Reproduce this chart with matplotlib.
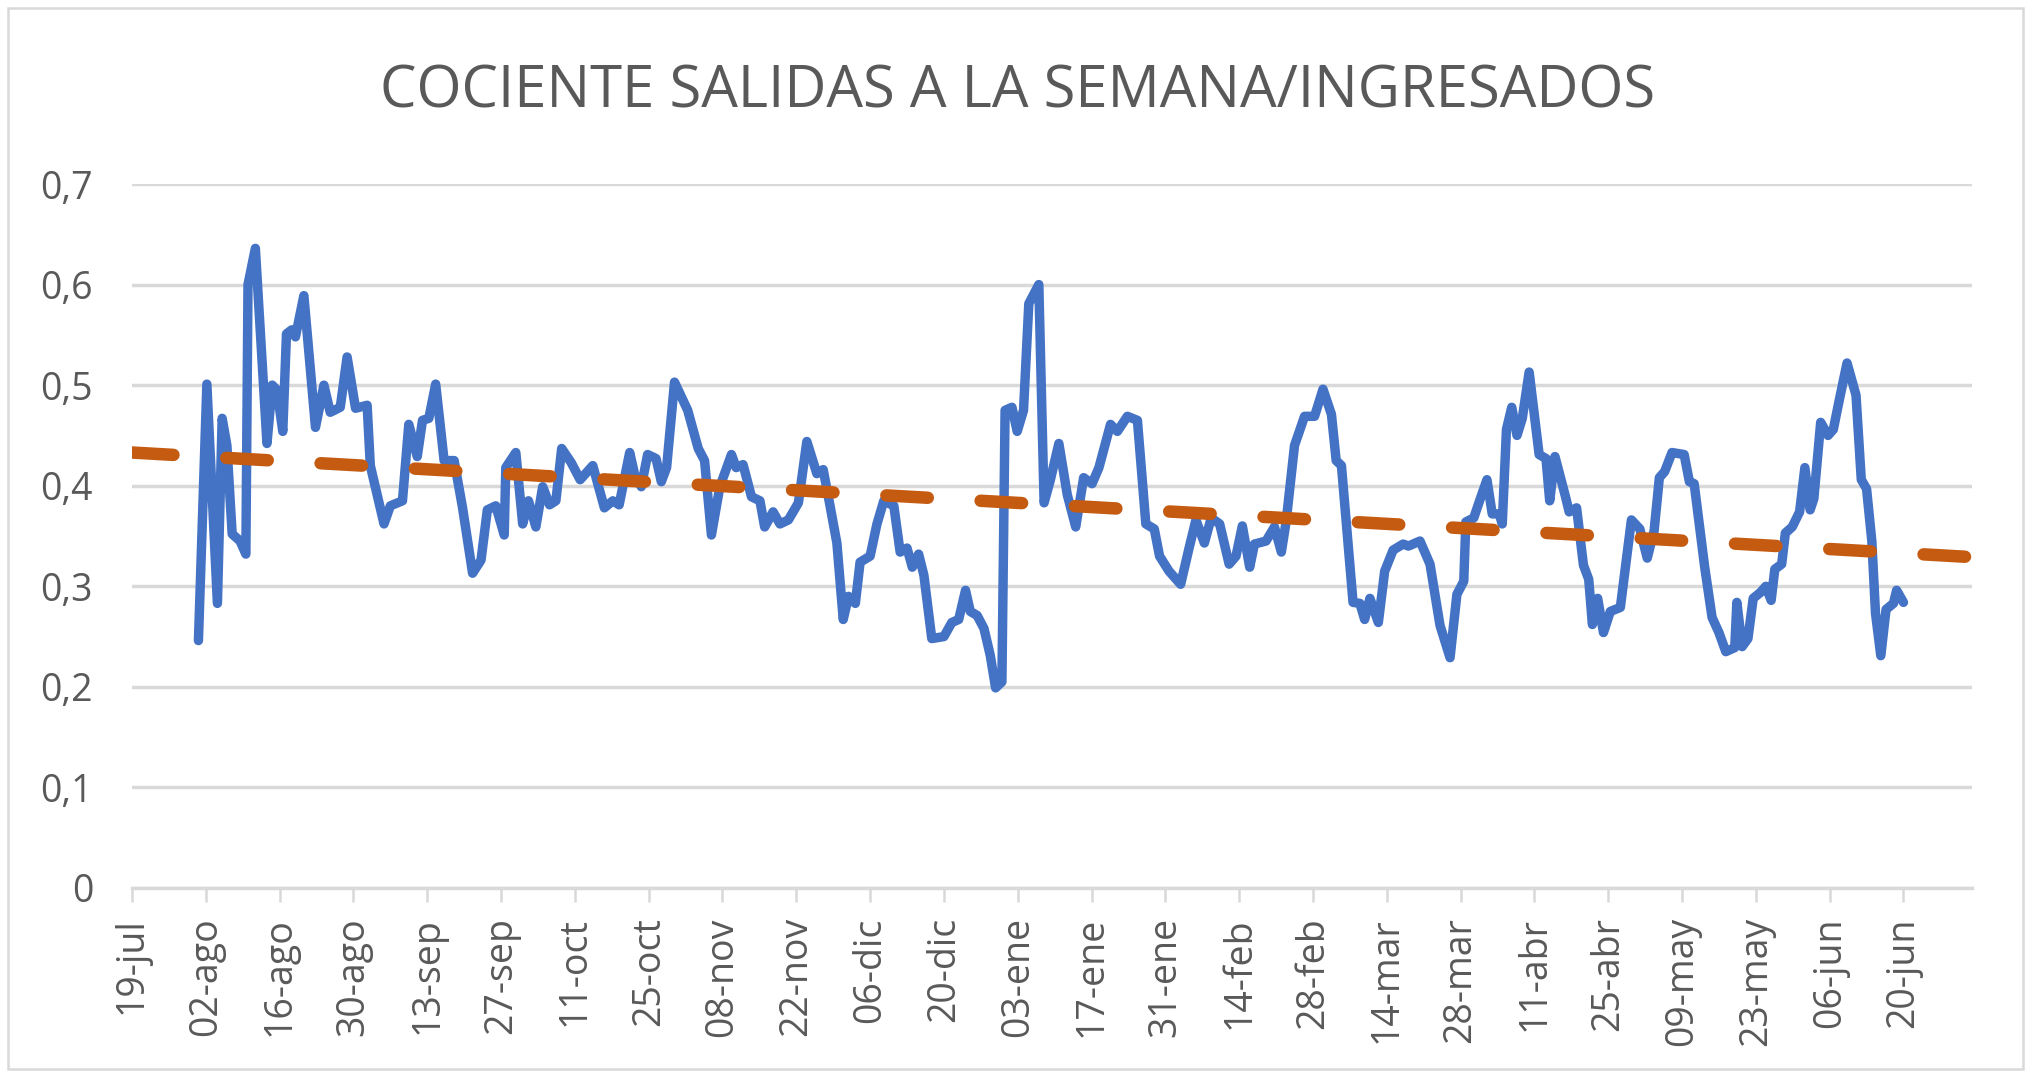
import matplotlib
matplotlib.use("Agg")
import matplotlib.pyplot as plt
from matplotlib.patches import Rectangle

# ---- data (days counted from 19-jul) ----
days = [12.6, 14.2, 16.2, 17.1, 18.0, 19.0, 20.5, 21.6, 22.0, 23.4, 25.6, 26.6, 27.5, 28.6, 29.3,
        30.3, 31.0, 32.6, 34.8, 36.4, 37.6, 39.5, 40.8, 42.4, 44.6, 45.2, 47.8, 49.0, 51.3, 52.5,
        54.1, 55.1, 56.3, 57.6, 59.2, 61.1, 62.7, 64.6, 66.2, 67.4, 69.0, 70.6, 70.9, 72.8, 74.1,
        75.2, 76.6, 77.9, 79.2, 80.4, 81.5, 83.3, 85.0, 87.4, 89.6, 91.2, 92.4, 94.4, 95.3, 96.6,
        97.8, 99.4, 100.4, 101.4, 102.9, 105.4, 107.4, 108.6, 109.9, 111.5, 113.7, 114.6, 115.9,
        117.5, 119.1, 120.0, 121.6, 122.9, 124.5, 126.4, 128.0, 129.9, 131.1, 132.4, 133.7, 134.9,
        135.9, 137.2, 138.1, 140.0, 141.3, 142.6, 144.5, 145.7, 147.0, 148.0, 149.2, 150.2, 151.7,
        154.0, 155.5, 156.8, 158.1, 159.0, 160.3, 161.6, 162.8, 163.8, 165.0, 165.6, 166.9, 167.9,
        169.1, 170.1, 172.0, 173.0, 174.2, 175.8, 177.4, 179.0, 180.5, 182.1, 183.4, 185.6, 186.9,
        188.8, 190.7, 192.3, 193.9, 194.9, 196.7, 198.9, 200.5, 201.8, 203.4, 204.7, 206.3, 208.1,
        209.4, 210.6, 212.0, 212.9, 215.1, 216.7, 218.0, 218.9, 220.5, 222.4, 224.3, 225.9, 227.5,
        228.4, 229.4, 231.6, 232.9, 233.8, 234.8, 236.4, 237.6, 239.2, 241.1, 242.1, 244.3, 246.2,
        248.1, 250.0, 251.3, 252.6, 253.0, 254.5, 255.6, 257.0, 258.0, 259.3, 259.9, 260.7, 261.7,
        262.7, 263.7, 265.0, 266.9, 268.2, 268.9, 269.9, 271.9, 272.6, 274.0, 275.3, 276.3, 277.0,
        278.0, 279.1, 280.4, 282.3, 284.4, 286.0, 287.4, 288.7, 289.7, 290.7, 292.1, 294.4, 295.4,
        296.3, 298.3, 299.7, 301.0, 302.3, 304.0, 304.4, 305.4, 306.5, 307.5, 308.9, 309.9, 310.9,
        311.6, 312.9, 313.6, 314.9, 316.3, 317.3, 318.3, 319.0, 320.3, 321.7, 322.7, 323.7, 325.3,
        327.0, 328.0, 329.0, 330.0, 330.7, 331.7, 332.7, 334.1, 334.7, 336.0]
cociente = [0.246, 0.501, 0.283, 0.467, 0.440, 0.352, 0.345, 0.332, 0.600, 0.636, 0.442, 0.500, 0.495, 0.454, 0.551,
            0.555, 0.548, 0.589, 0.458, 0.500, 0.473, 0.478, 0.528, 0.477, 0.480, 0.420, 0.362, 0.380, 0.385, 0.461,
            0.429, 0.465, 0.467, 0.501, 0.425, 0.425, 0.378, 0.313, 0.326, 0.376, 0.380, 0.351, 0.418, 0.433, 0.362,
            0.385, 0.359, 0.399, 0.381, 0.385, 0.437, 0.423, 0.406, 0.420, 0.378, 0.385, 0.381, 0.433, 0.412, 0.399,
            0.431, 0.427, 0.404, 0.418, 0.503, 0.475, 0.437, 0.425, 0.351, 0.399, 0.431, 0.418, 0.421,
            0.389, 0.385, 0.359, 0.374, 0.362, 0.366, 0.383, 0.444, 0.412, 0.416, 0.380, 0.343, 0.267,
            0.290, 0.283, 0.324, 0.330, 0.362, 0.385, 0.380, 0.334, 0.338, 0.319, 0.332, 0.311, 0.248,
            0.250, 0.264, 0.267, 0.296, 0.275, 0.271, 0.258, 0.231, 0.199, 0.205, 0.475, 0.478, 0.454,
            0.475, 0.581, 0.600, 0.383, 0.406, 0.442, 0.391, 0.359, 0.408, 0.402, 0.418, 0.461, 0.454,
            0.469, 0.465, 0.362, 0.357, 0.330, 0.315, 0.302, 0.338, 0.366, 0.343, 0.368, 0.362, 0.322,
            0.330, 0.360, 0.319, 0.342, 0.345, 0.359, 0.334, 0.364, 0.440, 0.469, 0.469, 0.496, 0.471,
            0.425, 0.420, 0.284, 0.283, 0.267, 0.288, 0.264, 0.315, 0.336, 0.342, 0.340, 0.345, 0.322,
            0.261, 0.229, 0.292, 0.305, 0.364, 0.368, 0.385, 0.406, 0.372, 0.372, 0.362, 0.456, 0.478,
            0.450, 0.467, 0.513, 0.431, 0.427, 0.385, 0.429, 0.389, 0.374, 0.378, 0.321, 0.307, 0.262,
            0.288, 0.254, 0.275, 0.279, 0.366, 0.357, 0.328, 0.355, 0.408, 0.414, 0.433, 0.431, 0.404,
            0.402, 0.319, 0.269, 0.254, 0.235, 0.239, 0.284, 0.240, 0.248, 0.288, 0.294, 0.300, 0.286,
            0.317, 0.322, 0.353, 0.359, 0.374, 0.418, 0.376, 0.387, 0.463, 0.450, 0.456, 0.482, 0.522,
            0.490, 0.406, 0.397, 0.345, 0.273, 0.231, 0.277, 0.283, 0.296, 0.284]

# linear trend line (end points)
trend_days = [0, 349]
trend_vals = [0.433, 0.329]

tick_days = list(range(0, 337, 14))
tick_labels = ['19-jul', '02-ago', '16-ago', '30-ago', '13-sep', '27-sep', '11-oct', '25-oct',
               '08-nov', '22-nov', '06-dic', '20-dic', '03-ene', '17-ene', '31-ene', '14-feb',
               '28-feb', '14-mar', '28-mar', '11-abr', '25-abr', '09-may', '23-may', '06-jun', '20-jun']
y_ticks = [0, 0.1, 0.2, 0.3, 0.4, 0.5, 0.6, 0.7]
y_labels = ['0', '0,1', '0,2', '0,3', '0,4', '0,5', '0,6', '0,7']
title = 'COCIENTE SALIDAS A LA SEMANA/INGRESADOS'

# ---- figure ----
W, H = 2031, 1077
plt.rcParams['font.family'] = ['Open Sans', 'DejaVu Sans']
fig = plt.figure(figsize=(W / 100, H / 100), dpi=100)
fig.patch.set_facecolor('white')

fig.patches.append(Rectangle((8 / W, 8 / H), (W - 16) / W, (H - 16) / H, transform=fig.transFigure,
                             fill=False, edgecolor='#d9d9d9', linewidth=1.8))

left, right, top, bottom = 132, 1972, 184, 888
ax = fig.add_axes([left / W, 1 - bottom / H, (right - left) / W, (bottom - top) / H])

grey_txt = '#595959'
grid_c = '#d9d9d9'

ax.plot(days, cociente, color='#4472C4', linewidth=6.8, solid_joinstyle='round',
        solid_capstyle='round', zorder=3)
trend_lw = 9.0
ax.plot(trend_days, trend_vals, color='#C55A11', linewidth=trend_lw,
        dashes=(29.9 / trend_lw, 38.1 / trend_lw), dash_capstyle='round', zorder=4)

ax.set_xlim(0, 349)
ax.set_ylim(0, 0.7)
ax.set_yticks(y_ticks)
ax.set_yticklabels(y_labels)
ax.set_xticks(tick_days)
ax.set_xticklabels(tick_labels, rotation=90)

ax.yaxis.grid(True, color=grid_c, linewidth=2.5)
ax.set_axisbelow(True)
for s in ['top', 'right', 'left']:
    ax.spines[s].set_visible(False)
ax.spines['bottom'].set_color(grid_c)
ax.spines['bottom'].set_linewidth(2.5)
ax.spines['bottom'].set_zorder(2)

ax.tick_params(axis='y', length=0, pad=28, labelsize=27, labelcolor=grey_txt)
ax.tick_params(axis='x', direction='out', length=10, width=1.8, color=grid_c, pad=11,
               labelsize=27, labelcolor=grey_txt)

fig.text(1018 / W, 1 - 107 / H, title, ha='center', va='baseline', fontsize=41.8, color=grey_txt)

fig.savefig('out.png', dpi=100, facecolor='white')
